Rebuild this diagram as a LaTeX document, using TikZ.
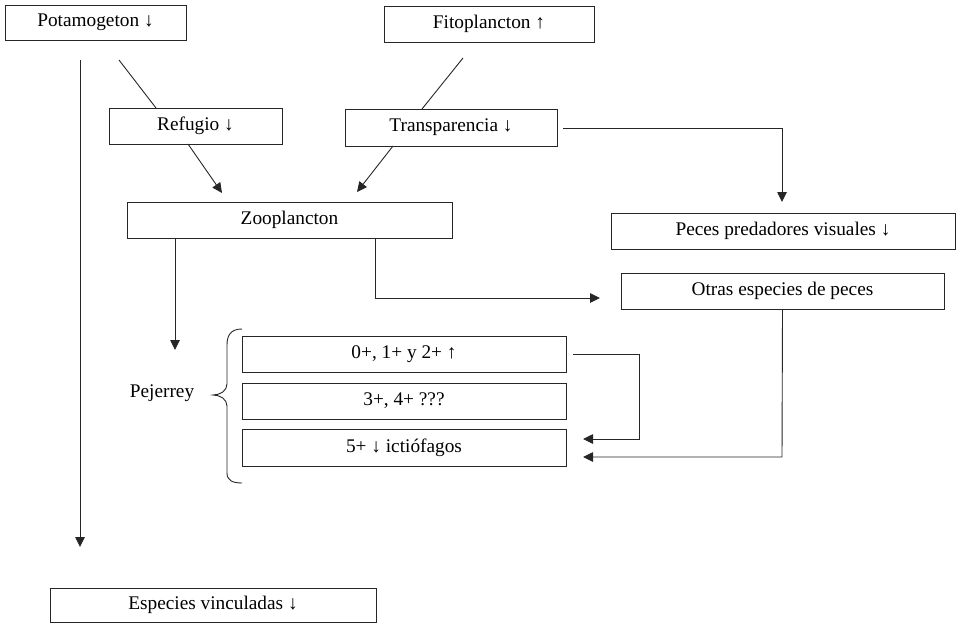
\documentclass[tikz,border=0pt]{standalone}
\usepackage{fontspec}
\setmainfont{Liberation Serif}
\usetikzlibrary{arrows.meta}
\tikzset{
  box/.style={draw=black!85, line width=0.9pt, rectangle, inner sep=0pt, align=center,
    font=\fontsize{19.3}{21}\selectfont},
  conn/.style={draw=black!85, line width=0.9pt},
  arr/.style={conn, -{Triangle[length=10pt,width=9.5pt]}},
  lbl/.style={font=\fontsize{19.3}{21}\selectfont, inner sep=0pt}
}
\begin{document}
\begin{tikzpicture}[x=1pt,y=-1pt]
\useasboundingbox (0,0) rectangle (960,623);
% boxes
\node[box, minimum width=181pt, minimum height=35pt] (pot) at (95.5,22.5) {Potamogeton ↓};
\node[box, minimum width=210pt, minimum height=36pt] (fito) at (489,24) {Fitoplancton ↑};
\node[box, minimum width=173pt, minimum height=36pt] (ref) at (195.5,126) {Refugio ↓};
\node[box, minimum width=212pt, minimum height=37pt] (trans) at (451,127.5) {Transparencia ↓};
\node[box, minimum width=325pt, minimum height=36pt] (zoo) at (289.5,220) {Zooplancton};
\node[box, minimum width=344pt, minimum height=36pt] (peces) at (783,231) {Peces predadores visuales ↓};
\node[box, minimum width=323pt, minimum height=36pt] (otras) at (782.5,291) {Otras especies de peces};
\node[box, minimum width=324pt, minimum height=36pt] (g1) at (404,354) {0+, 1+ y 2+ ↑};
\node[box, minimum width=324pt, minimum height=36pt] (g2) at (404,401) {3+, 4+ ???};
\node[box, minimum width=324pt, minimum height=37pt] (g3) at (404,447.5) {5+ ↓ ictiófagos};
\node[box, minimum width=326pt, minimum height=34pt] (esp) at (213,605) {Especies vinculadas ↓};
\node[lbl] (pej) at (162,393) {Pejerrey};
% coordinates
\coordinate (potA) at (119,60);
\coordinate (refA) at (156,108);
\coordinate (fitoA) at (463,58);
\coordinate (transA) at (422,109);
\coordinate (refB) at (188,144);
\coordinate (zooA) at (222,193);
\coordinate (transB) at (393,146);
\coordinate (zooB) at (357,192);
\coordinate (transC) at (563,128);
\coordinate (pecesA) at (782,202);
\coordinate (potB) at (80,60);
\coordinate (espA) at (80,547);
\coordinate (zooC) at (175,238);
\coordinate (pejA) at (175,350);
\coordinate (zooD) at (375,238);
\coordinate (otrasA) at (600,298);
\coordinate (g1A) at (573,354);
\coordinate (g3A) at (583,439);
\coordinate (g3B) at (583,457);
% connectors
\draw[conn] (potA) -- (refA);
\draw[conn] (fitoA) -- (transA);
\draw[arr] (refB) -- (zooA);
\draw[arr] (transB) -- (zooB);
\draw[arr] (transC) -- (782,128) -- (pecesA);
\draw[arr] (potB) -- (espA);
\draw[arr] (zooC) -- (pejA);
\draw[arr] (zooD) -- (375,298) -- (otrasA);
\draw[arr] (g1A) -- (639,354) -- (639,439) -- (g3A);
\draw[arr] (otras.south) -- (782,457) -- (g3B);
% brace
\draw[conn] (242,329) .. controls (231,329) and (227,335) .. (227,345) -- (227,384)
  .. controls (227,391) and (220,395) .. (213,395)
  .. controls (220,395) and (227,399) .. (227,406) -- (227,473)
  .. controls (227,480) and (232,483) .. (242,483);
\end{tikzpicture}
\end{document}
